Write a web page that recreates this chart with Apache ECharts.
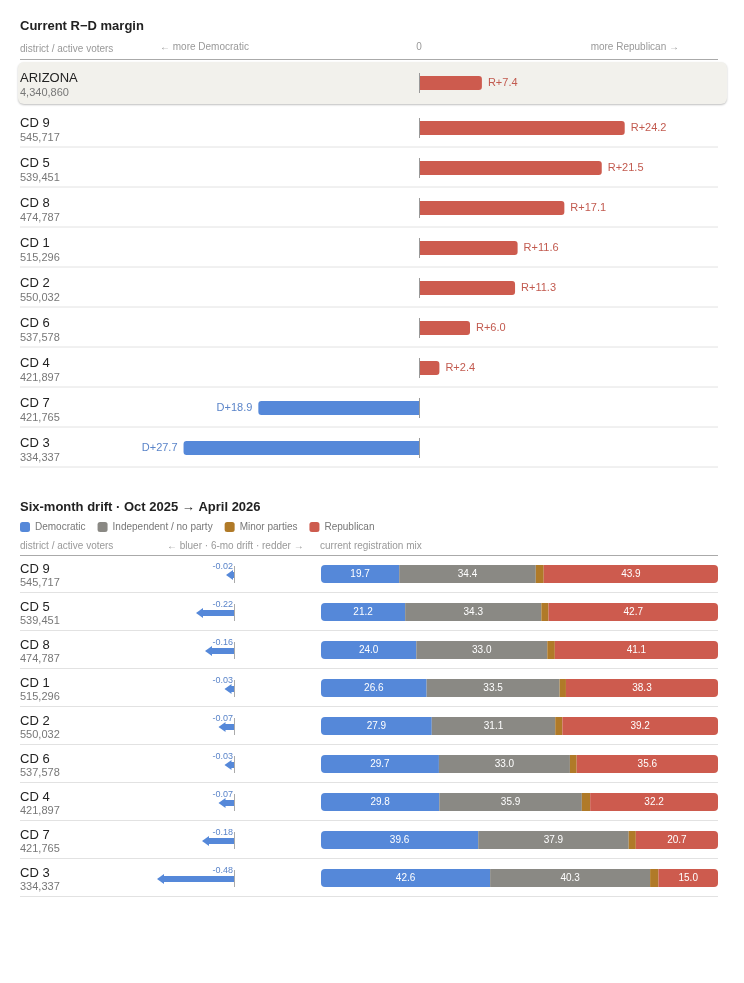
<!DOCTYPE html>
<html>
<head>
<meta charset="utf-8">
<script src="https://cdn.jsdelivr.net/npm/echarts@6/dist/echarts.min.js"></script>
<style>
  html, body { margin: 0; padding: 0; background: #fff; }
  #chart { width: 744px; height: 983px; }
</style>
</head>
<body>
<div id="chart"></div>
<script>
// ---- data ----
const totalName = "ARIZONA";
const totalVoters = "4,340,860";
const totalMargin = 7.4;

const districts = ["CD 9", "CD 5", "CD 8", "CD 1", "CD 2", "CD 6", "CD 4", "CD 7", "CD 3"];
const voters = ["545,717", "539,451", "474,787", "515,296", "550,032", "537,578", "421,897", "421,765", "334,337"];
const margins = [24.2, 21.5, 17.1, 11.6, 11.3, 6.0, 2.4, -18.9, -27.7];

const drift = [-0.02, -0.22, -0.16, -0.03, -0.07, -0.03, -0.07, -0.18, -0.48];
const demShare = [19.7, 21.2, 24.0, 26.6, 27.9, 29.7, 29.8, 39.6, 42.6];
const indShare = [34.4, 34.3, 33.0, 33.5, 31.1, 33.0, 35.9, 37.9, 40.3];
const minorShare = [2.0, 1.8, 1.9, 1.6, 1.8, 1.7, 2.1, 1.8, 2.1];
const repShare = [43.9, 42.7, 41.1, 38.3, 39.2, 35.6, 32.2, 20.7, 15.0];

const RED = "#cd5b4e";
const BLUE = "#5588d9";
const GREY = "#8a8984";
const BROWN = "#b07a28";
const FONT = "'Liberation Sans', Arial, sans-serif";

const chart = echarts.init(document.getElementById("chart"), null, { renderer: "canvas" });

const voterLookup = {};
voterLookup[totalName] = totalVoters;
districts.forEach((d, i) => { voterLookup[d] = voters[i]; });

function rowLabel(margin, pad) {
  return {
    align: "left",
    margin: margin,
    padding: [pad, 0, 0, 0],
    formatter: (v) => "{n|" + v + "}\n{v|" + voterLookup[v] + "}",
    rich: {
      n: { fontSize: 13, color: "#222", lineHeight: 15, fontFamily: FONT },
      v: { fontSize: 11, color: "#777", lineHeight: 13, fontFamily: FONT }
    }
  };
}

function marginItem(highlight) {
  return function (params, api) {
    const v = api.value(0);
    const cat = api.value(1);
    const p = api.coord([v, cat]);
    const z = api.coord([0, cat]);
    const y = p[1];
    const h = 14;
    const pos = v >= 0;
    const children = [];
    if (highlight) {
      children.push({
        type: "rect",
        shape: { x: 18, y: y - 21, width: 709, height: 42, r: 6 },
        style: { fill: "#f2f1ec", shadowBlur: 2, shadowOffsetY: 1, shadowColor: "rgba(0,0,0,0.25)" }
      });
    } else {
      children.push({
        type: "line",
        shape: { x1: 20, y1: y + 19, x2: 718, y2: y + 19 },
        style: { stroke: "#e2e2e2", lineWidth: 1 }
      });
    }
    children.push({
      type: "rect",
      shape: {
        x: Math.min(p[0], z[0]), y: y - h / 2,
        width: Math.abs(p[0] - z[0]), height: h,
        r: pos ? [0, 3, 3, 0] : [3, 0, 0, 3]
      },
      style: { fill: pos ? RED : BLUE }
    });
    children.push({
      type: "line",
      shape: { x1: z[0] + 0.5, y1: y - 10, x2: z[0] + 0.5, y2: y + 10 },
      style: { stroke: "#999", lineWidth: 1 }
    });
    children.push({
      type: "text",
      style: {
        text: (pos ? "R+" : "D+") + Math.abs(v).toFixed(1),
        x: pos ? p[0] + 6 : p[0] - 6, y: y,
        align: pos ? "left" : "right", verticalAlign: "middle",
        fontSize: 11, fontFamily: FONT, fill: pos ? "#c25a4f" : "#5a84c9"
      }
    });
    return { type: "group", children: children };
  };
}

function arrowItem(params, api) {
  const v = api.value(0);
  const cat = api.value(1);
  const p = api.coord([v, cat]);
  const z = api.coord([0, cat]);
  const y = p[1] + 1;
  return {
    type: "group",
    children: [
      { type: "rect", shape: { x: p[0], y: y - 3, width: z[0] - p[0], height: 6 }, style: { fill: BLUE } },
      { type: "polygon", shape: { points: [[p[0] + 2, y - 5], [p[0] - 5, y], [p[0] + 2, y + 5]] }, style: { fill: BLUE } },
      { type: "line", shape: { x1: z[0] + 0.5, y1: y - 9, x2: z[0] + 0.5, y2: y + 8 }, style: { stroke: "#aaa", lineWidth: 1 } },
      {
        type: "text",
        style: {
          text: v.toFixed(2), x: z[0] - 1, y: y - 8, align: "right", verticalAlign: "middle",
          fontSize: 9, fontFamily: FONT, fill: "#5a84c9"
        }
      }
    ]
  };
}

function separatorItem(params, api) {
  const p = api.coord([0, api.value(1)]);
  return {
    type: "line",
    shape: { x1: 20, y1: p[1] + 18.5, x2: 718, y2: p[1] + 18.5 },
    style: { stroke: "#e2e2e2", lineWidth: 1 }
  };
}

const txt = (text, x, y, extra) => ({
  type: "text", x: x, y: y,
  style: Object.assign({ text: text, fontSize: 10, fill: "#999", fontFamily: FONT, verticalAlign: "middle" }, extra || {})
});

const segLabel = {
  show: true, color: "#fff", fontSize: 10, fontFamily: FONT,
  formatter: (p) => p.value.toFixed(1)
};

const option = {
  animation: false,
  textStyle: { fontFamily: FONT },
  legend: {
    data: ["Democratic", "Independent / no party", "Minor parties", "Republican"],
    left: 15, top: 517,
    icon: "roundRect", itemWidth: 10, itemHeight: 10, itemGap: 12,
    textStyle: { fontSize: 10, color: "#777", fontFamily: FONT },
    selectedMode: false
  },
  graphic: [
    txt("Current R\u2212D margin", 20, 26, { fontSize: 13, fontWeight: "bold", fill: "#222" }),
    txt("district / active voters", 20, 49),
    txt("\u2190 more Democratic", 160, 47),
    txt("0", 419, 47, { align: "center" }),
    txt("more Republican \u2192", 679, 47, { align: "right" }),
    { type: "line", shape: { x1: 20, y1: 59.5, x2: 718, y2: 59.5 }, style: { stroke: "#aaa", lineWidth: 1 } },
    txt("Six-month drift \u00b7 Oct 2025 \u2192 April 2026", 20, 507, { fontSize: 13, fontWeight: "bold", fill: "#222" }),
    txt("district / active voters", 20, 546),
    txt("\u2190 bluer \u00b7 6-mo drift \u00b7 redder \u2192", 167, 546),
    txt("current registration mix", 320, 546),
    { type: "line", shape: { x1: 20, y1: 555.5, x2: 718, y2: 555.5 }, style: { stroke: "#aaa", lineWidth: 1 } }
  ],
  grid: [
    { left: 160, width: 518, top: 62, height: 42 },
    { left: 160, width: 518, top: 108, height: 360 },
    { left: 84, width: 180, top: 555, height: 342 },
    { left: 321, width: 397, top: 555, height: 342 }
  ],
  xAxis: [
    { gridIndex: 0, type: "value", min: -30.47, max: 30.47, show: false },
    { gridIndex: 1, type: "value", min: -30.47, max: 30.47, show: false },
    { gridIndex: 2, type: "value", min: -1, max: 0.2, show: false },
    { gridIndex: 3, type: "value", min: 0, max: 100, show: false }
  ],
  yAxis: [
    { gridIndex: 0, type: "category", data: [totalName], inverse: true, z: 10,
      axisLine: { show: false }, axisTick: { show: false }, axisLabel: rowLabel(140, 4) },
    { gridIndex: 1, type: "category", data: districts, inverse: true,
      axisLine: { show: false }, axisTick: { show: false }, axisLabel: rowLabel(140, 4) },
    { gridIndex: 2, type: "category", data: districts, inverse: true,
      axisLine: { show: false }, axisTick: { show: false }, axisLabel: rowLabel(64, 3) },
    { gridIndex: 3, type: "category", data: districts, inverse: true, show: false }
  ],
  series: [
    {
      type: "custom", xAxisIndex: 0, yAxisIndex: 0, clip: false, z: 1,
      renderItem: marginItem(true),
      encode: { x: 0, y: 1 },
      data: [[totalMargin, totalName]]
    },
    {
      type: "custom", xAxisIndex: 1, yAxisIndex: 1, clip: false,
      renderItem: marginItem(false),
      encode: { x: 0, y: 1 },
      data: margins.map((m, i) => [m, districts[i]])
    },
    {
      type: "custom", xAxisIndex: 2, yAxisIndex: 2, clip: false,
      renderItem: arrowItem,
      encode: { x: 0, y: 1 },
      data: drift.map((d, i) => [d, districts[i]])
    },
    {
      type: "custom", xAxisIndex: 3, yAxisIndex: 3, clip: false, z: 1,
      renderItem: separatorItem,
      encode: { x: 0, y: 1 },
      data: districts.map((d) => [0, d])
    },
    {
      name: "Democratic", type: "bar", stack: "mix", xAxisIndex: 3, yAxisIndex: 3,
      barWidth: 18, data: demShare, label: segLabel,
      itemStyle: { color: BLUE, borderRadius: [4, 0, 0, 4] }
    },
    {
      name: "Independent / no party", type: "bar", stack: "mix", xAxisIndex: 3, yAxisIndex: 3,
      barWidth: 18, data: indShare, label: segLabel,
      itemStyle: { color: GREY }
    },
    {
      name: "Minor parties", type: "bar", stack: "mix", xAxisIndex: 3, yAxisIndex: 3,
      barWidth: 18, data: minorShare,
      itemStyle: { color: BROWN }
    },
    {
      name: "Republican", type: "bar", stack: "mix", xAxisIndex: 3, yAxisIndex: 3,
      barWidth: 18, data: repShare, label: segLabel,
      itemStyle: { color: RED, borderRadius: [0, 4, 4, 0] }
    }
  ]
};

chart.setOption(option);
</script>
</body>
</html>
